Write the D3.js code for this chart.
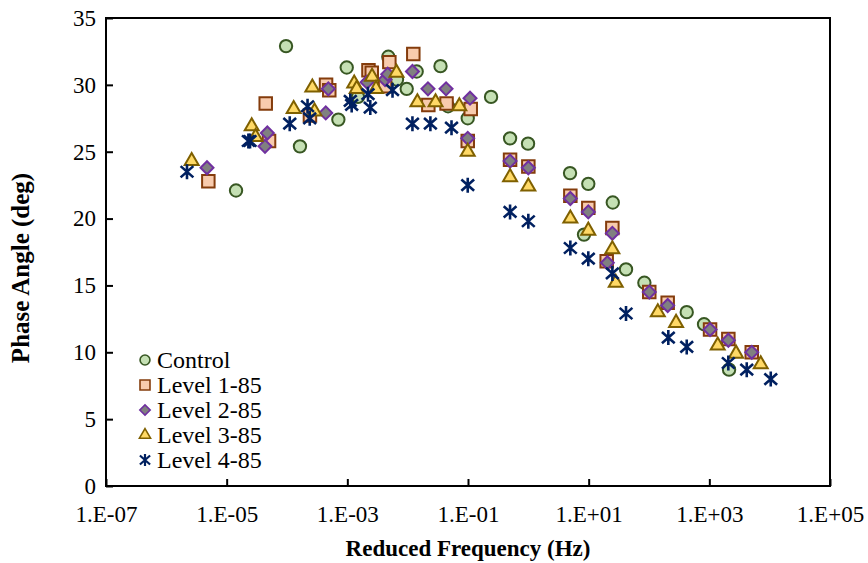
<!DOCTYPE html>
<html>
<head>
<meta charset="utf-8">
<script src="https://cdn.jsdelivr.net/npm/d3@7"></script>
<style>
	body { margin: 0; background: #fff; }
	svg text { font-family: "Times New Roman", "Liberation Serif", Times, serif; fill: #000; }
</style>
</head>
<body>
<div id="chart"></div>
<script>
// reduced frequency (Hz) and phase angle (deg)
var controlFreq = [1.43e-5, 9.64e-5, 1.64e-4, 7.10e-4, 9.77e-4, 1.50e-3, 4.78e-3, 6.65e-3, 9.64e-3, 1.41e-2,
	3.50e-2, 4.67e-2, 0.099, 0.241, 0.498, 0.989, 4.91, 9.86, 25.1, 8.37, 41.6, 83.8, 422, 817, 2123];
var controlPhase = [22.1, 32.9, 25.4, 27.4, 31.3, 29.1, 32.1, 30.4, 29.7, 31.0,
	31.4, 28.4, 27.5, 29.1, 26.0, 25.6, 23.4, 22.6, 21.2, 18.8, 16.2, 15.2, 13.0, 12.1, 8.7];

var level1Freq = [4.97e-6, 4.44e-5, 5.04e-5, 2.40e-4, 4.44e-4, 5.02e-4, 2.24e-3, 2.54e-3, 4.22e-3, 4.97e-3,
	1.24e-2, 2.20e-2, 4.41e-2, 0.111, 0.099, 0.498, 1.0, 4.97, 9.86, 24.7, 19.9, 101, 204, 1028, 2065, 5047];
var level1Phase = [22.8, 28.6, 25.8, 27.7, 30.0, 29.6, 31.1, 30.9, 29.9, 31.7,
	32.3, 28.5, 28.6, 28.2, 25.8, 24.4, 23.9, 21.7, 20.8, 19.3, 16.8, 14.5, 13.7, 11.7, 11.0, 10.0];

var level2Freq = [4.72e-6, 4.72e-5, 4.32e-5, 4.39e-4, 4.84e-4, 2.12e-3, 4.22e-3, 4.67e-3, 1.20e-2, 2.17e-2,
	4.33e-2, 0.108, 0.099, 0.498, 1.0, 4.97, 9.86, 24.7, 20.4, 101, 204, 1028, 2065, 5047];
var level2Phase = [23.8, 26.4, 25.4, 27.9, 29.7, 30.2, 30.4, 30.8, 31.0, 29.7,
	29.7, 29.0, 26.0, 24.3, 23.8, 21.5, 20.5, 18.9, 16.7, 14.5, 13.5, 11.7, 10.9, 10.0];

var level3Freq = [2.63e-6, 2.60e-5, 3.01e-5, 1.29e-4, 2.63e-4, 2.86e-4, 1.30e-3, 1.43e-3, 2.57e-3, 2.99e-3,
	6.53e-3, 1.45e-2, 2.90e-2, 7.18e-2, 0.099, 0.498, 1.0, 4.97, 9.86, 24.7, 28.1, 140, 281, 1377, 2773, 7112];
var level3Phase = [24.3, 26.9, 26.1, 28.2, 29.8, 28.0, 30.1, 29.7, 30.6, 29.7,
	30.9, 28.7, 28.7, 28.4, 25.0, 23.1, 22.4, 20.0, 19.1, 17.7, 15.2, 13.0, 12.2, 10.5, 9.9, 9.1];

var level4Freq = [2.20e-6, 2.29e-5, 2.44e-5, 1.11e-4, 2.19e-4, 2.38e-4, 1.12e-3, 1.18e-3, 2.20e-3, 2.40e-3,
	5.61e-3, 1.20e-2, 2.38e-2, 5.33e-2, 0.099, 0.498, 1.0, 4.97, 9.86, 24.7, 41.6, 209, 422, 2065, 4169, 10420];
var level4Phase = [23.5, 25.8, 25.8, 27.1, 28.4, 27.5, 28.8, 28.5, 29.3, 28.3,
	29.6, 27.1, 27.1, 26.8, 22.5, 20.5, 19.8, 17.8, 17.0, 15.9, 12.9, 11.1, 10.4, 9.2, 8.7, 8.0];

var seriesNames = ["Control", "Level 1-85", "Level 2-85", "Level 3-85", "Level 4-85"];
var xTicks = [1e-7, 1e-5, 1e-3, 1e-1, 1e1, 1e3, 1e5];
var xTickLabels = ["1.E-07", "1.E-05", "1.E-03", "1.E-01", "1.E+01", "1.E+03", "1.E+05"];
var yTicks = [0, 5, 10, 15, 20, 25, 30, 35];

var serif = '"Times New Roman", "Liberation Serif", Times, serif';

var margin = {top: 18, right: 38, bottom: 77, left: 106},
	width = 868 - margin.left - margin.right,
	height = 563 - margin.top - margin.bottom;

var svg = d3.select("#chart")
	.append("svg")
	.attr("width", 868)
	.attr("height", 563)
	.style("font-family", serif);

var g = svg.append("g")
	.attr("transform", "translate(" + margin.left + "," + margin.top + ")");

var x = d3.scaleLog()
	.domain([1e-7, 1e5])
	.range([0, width]);

var y = d3.scaleLinear()
	.domain([0, 35])
	.range([height, 0]);

// frame
g.append("rect")
	.attr("width", width)
	.attr("height", height)
	.attr("fill", "none")
	.attr("stroke", "#000")
	.attr("stroke-width", 2);

// x axis, ticks point inward
var xAxis = g.append("g")
	.attr("transform", "translate(0," + height + ")")
	.call(d3.axisBottom(x)
		.tickValues(xTicks)
		.tickFormat(function (d, i) { return xTickLabels[i]; })
		.tickSizeInner(-7)
		.tickSizeOuter(0)
		.tickPadding(20));
xAxis.attr("font-family", null).attr("font-size", null);
xAxis.select(".domain").remove();
xAxis.selectAll("line").attr("stroke", "#000").attr("stroke-width", 2);
xAxis.selectAll("text").style("font-size", "23px").style("font-family", serif);

// y axis
var yAxis = g.append("g")
	.call(d3.axisLeft(y)
		.tickValues(yTicks)
		.tickSizeInner(-7)
		.tickSizeOuter(0)
		.tickPadding(10));
yAxis.attr("font-family", null).attr("font-size", null);
yAxis.select(".domain").remove();
yAxis.selectAll("line").attr("stroke", "#000").attr("stroke-width", 2);
yAxis.selectAll("text").style("font-size", "23px").style("font-family", serif);

// axis titles
svg.append("text")
	.attr("x", margin.left + width / 2)
	.attr("y", 556)
	.attr("text-anchor", "middle")
	.style("font-size", "23px")
	.style("font-weight", "bold")
	.text("Reduced Frequency (Hz)");

svg.append("text")
	.attr("transform", "translate(29," + (margin.top + height / 2 + 16) + ") rotate(-90)")
	.attr("text-anchor", "middle")
	.style("font-size", "25px")
	.style("font-weight", "bold")
	.text("Phase Angle (deg)");

// marker shapes
var starPath = function (r) {
	return "M0," + (-r) + "L0," + r +
		"M" + (-r * 0.85) + "," + (-r * 0.75) + "L" + (r * 0.85) + "," + (r * 0.75) +
		"M" + (-r * 0.85) + "," + (r * 0.75) + "L" + (r * 0.85) + "," + (-r * 0.75);
};

var styles = [
	{path: function (s) { return d3.symbol(d3.symbolCircle, 120 * s * s)(); }, fill: "#c5e0b4", stroke: "#385723", rot: 0},
	{path: function (s) { return d3.symbol(d3.symbolSquare, 156 * s * s)(); }, fill: "#f8cbad", stroke: "#843c0c", rot: 0},
	{path: function (s) { return d3.symbol(d3.symbolSquare, 84 * s * s)(); }, fill: "#808080", stroke: "#7030a0", rot: 45},
	{path: function (s) { return d3.symbol(d3.symbolTriangle, 84 * s * s)(); }, fill: "#ffd966", stroke: "#7f6000", rot: 0},
	{path: function (s) { return starPath(7.5 * s); }, fill: "none", stroke: "#002060", rot: 0}
];

var seriesData = [
	d3.zip(controlFreq, controlPhase),
	d3.zip(level1Freq, level1Phase),
	d3.zip(level2Freq, level2Phase),
	d3.zip(level3Freq, level3Phase),
	d3.zip(level4Freq, level4Phase)
];

seriesData.forEach(function (data, i) {
	var st = styles[i];
	g.append("g")
		.selectAll("path")
		.data(data)
		.enter()
		.append("path")
		.attr("transform", function (d) {
			return "translate(" + x(d[0]) + "," + y(d[1]) + ") rotate(" + st.rot + ")";
		})
		.attr("d", st.path(1))
		.attr("fill", st.fill)
		.attr("stroke", st.stroke)
		.attr("stroke-width", i == 4 ? 2.6 : 2);
});

// legend
var legend = svg.append("g")
	.attr("transform", "translate(145,360)");

seriesNames.forEach(function (name, i) {
	var st = styles[i];
	var row = legend.append("g")
		.attr("transform", "translate(0," + (i * 25) + ")");
	row.append("path")
		.attr("transform", "rotate(" + st.rot + ")")
		.attr("d", st.path(0.8))
		.attr("fill", st.fill)
		.attr("stroke", st.stroke)
		.attr("stroke-width", i == 4 ? 2.2 : 1.6);
	row.append("text")
		.attr("x", 12)
		.attr("y", 8)
		.style("font-size", "24px")
		.style("font-family", serif)
		.text(name);
});
</script>
</body>
</html>
